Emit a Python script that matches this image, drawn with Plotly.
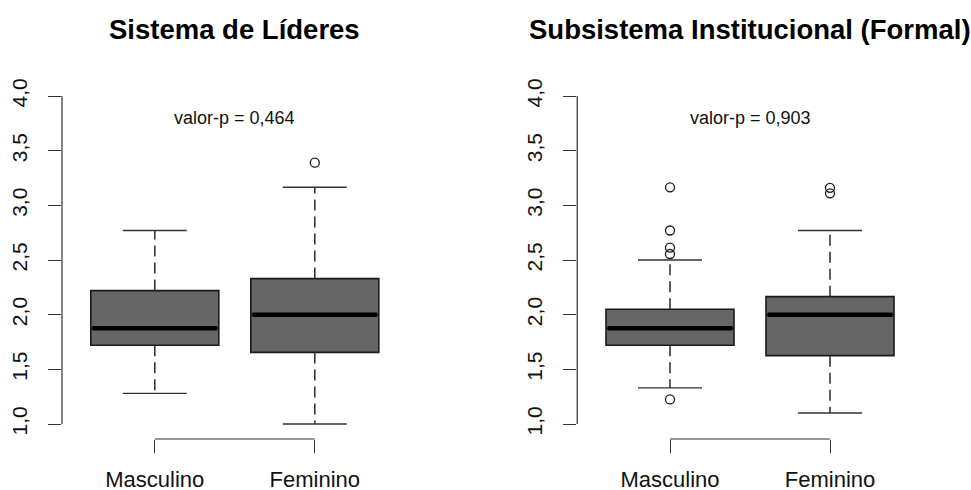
import plotly.graph_objects as go

# ---- data ----
CATEGORIES = ["Masculino", "Feminino"]
POSITIONS = [1, 2]
TITLES = ["Sistema de Líderes", "Subsistema Institucional (Formal)"]
P_VALUES = ["valor-p = 0,464", "valor-p = 0,903"]

# panel 1: Sistema de Líderes
LID_LOWER = [1.28, 1.00]
LID_Q1 = [1.72, 1.655]
LID_MEDIAN = [1.875, 2.00]
LID_Q3 = [2.22, 2.33]
LID_UPPER = [2.77, 3.165]
LID_OUTLIERS = [[], [3.39]]

# panel 2: Subsistema Institucional (Formal)
INS_LOWER = [1.33, 1.10]
INS_Q1 = [1.72, 1.625]
INS_MEDIAN = [1.875, 2.00]
INS_Q3 = [2.05, 2.165]
INS_UPPER = [2.50, 2.77]
INS_OUTLIERS = [[3.165, 2.77, 2.613, 2.555, 1.225], [3.16, 3.11]]

Y_TICKS = [1.0, 1.5, 2.0, 2.5, 3.0, 3.5, 4.0]
Y_TICK_LABELS = ["1,0", "1,5", "2,0", "2,5", "3,0", "3,5", "4,0"]

# ---- style ----
W, H = 971, 490
FONT = "Liberation Sans, Arial, Helvetica, sans-serif"
BOX_FILL = "#666666"
EDGE = "#1a1a1a"
AXIS = "#333333"
BOX_W = 0.8
STAPLE_W = 0.4

fig = go.Figure()

panels = [
    ("x", "y", LID_LOWER, LID_Q1, LID_MEDIAN, LID_Q3, LID_UPPER, LID_OUTLIERS),
    ("x2", "y2", INS_LOWER, INS_Q1, INS_MEDIAN, INS_Q3, INS_UPPER, INS_OUTLIERS),
]

for xa, ya, lo, q1, med, q3, up, outl in panels:
    for i, pos in enumerate(POSITIONS):
        fig.add_trace(go.Box(
            x=[pos], q1=[q1[i]], median=[med[i]], q3=[q3[i]],
            lowerfence=[q1[i]], upperfence=[q3[i]],
            width=BOX_W, whiskerwidth=0,
            fillcolor=BOX_FILL, line=dict(color=EDGE, width=1.6),
            boxpoints=False, hoverinfo="skip", showlegend=False,
            xaxis=xa, yaxis=ya,
        ))
        # dashed whiskers
        fig.add_trace(go.Scatter(
            x=[pos, pos, None, pos, pos],
            y=[q3[i], up[i], None, q1[i], lo[i]],
            mode="lines", line=dict(color="#2a2a2a", width=1.5, dash="11px,6px"),
            hoverinfo="skip", showlegend=False, xaxis=xa, yaxis=ya,
        ))
        # staples
        fig.add_trace(go.Scatter(
            x=[pos - STAPLE_W / 2, pos + STAPLE_W / 2, None,
               pos - STAPLE_W / 2, pos + STAPLE_W / 2],
            y=[up[i], up[i], None, lo[i], lo[i]],
            mode="lines", line=dict(color=AXIS, width=1.4),
            hoverinfo="skip", showlegend=False, xaxis=xa, yaxis=ya,
        ))
        # thick median
        fig.add_trace(go.Scatter(
            x=[pos - BOX_W / 2 + 0.01, pos + BOX_W / 2 - 0.01],
            y=[med[i], med[i]],
            mode="lines", line=dict(color="#000000", width=4.5),
            hoverinfo="skip", showlegend=False, xaxis=xa, yaxis=ya,
        ))
        # outliers
        if outl[i]:
            fig.add_trace(go.Scatter(
                x=[pos] * len(outl[i]), y=outl[i], mode="markers",
                marker=dict(symbol="circle-open", size=9,
                            line=dict(color=EDGE, width=1.3), color=EDGE),
                hoverinfo="skip", showlegend=False, xaxis=xa, yaxis=ya,
            ))

# ---- layout ----
px_x = lambda p: p / W
px_y = lambda p: 1 - p / H

y_dom = [px_y(439), px_y(83)]
y_rng = [0.8628, 4.119]
x_rng = [0.42, 2.58]

xcommon = dict(range=x_rng, tickvals=POSITIONS, ticktext=CATEGORIES,
               ticks="outside", ticklen=13, tickwidth=1.2, tickcolor=AXIS,
               showline=False, showgrid=False, zeroline=False,
               tickfont=dict(family=FONT, size=22, color="#111111"),
               automargin=False, fixedrange=True, ticklabelstandoff=8)
ycommon = dict(range=y_rng, domain=y_dom, tickvals=Y_TICKS, ticktext=Y_TICK_LABELS,
               ticks="outside", ticklen=13, tickwidth=1.2, tickcolor=AXIS,
               showline=False, showgrid=False, zeroline=False,
               tickangle=-90,
               tickfont=dict(family=FONT, size=21, color="#111111"),
               automargin=False, fixedrange=True, ticklabelstandoff=13)

fig.update_layout(
    width=W, height=H,
    margin=dict(l=0, r=0, t=0, b=0),
    paper_bgcolor="white", plot_bgcolor="white",
    showlegend=False,
    xaxis=dict(domain=[px_x(62), px_x(407.6)], anchor="y", **xcommon),
    yaxis=dict(anchor="x", **ycommon),
    xaxis2=dict(domain=[px_x(577.2), px_x(922.8)], anchor="y2", **xcommon),
    yaxis2=dict(anchor="x2", **ycommon),
)

shapes = []
annotations = []
for k, (xa, ya) in enumerate([("x", "y"), ("x2", "y2")]):
    # y axis line from first to last tick
    shapes.append(dict(type="line", xref=f"{xa} domain", yref=ya,
                       x0=0, x1=0, y0=Y_TICKS[0], y1=Y_TICKS[-1],
                       line=dict(color=AXIS, width=1.2)))
    # x axis line from first to last category
    shapes.append(dict(type="line", xref=xa, yref=f"{ya} domain",
                       x0=POSITIONS[0], x1=POSITIONS[-1], y0=0, y1=0,
                       line=dict(color=AXIS, width=1.2)))
    annotations.append(dict(text=f"<b>{TITLES[k]}</b>", xref=f"{xa} domain", yref="paper",
                            x=0.5, y=px_y(30), xanchor="center", yanchor="middle",
                            showarrow=False,
                            font=dict(family=FONT, size=27.5, color="#000000")))
    annotations.append(dict(text=P_VALUES[k], xref=xa, yref=ya,
                            x=(POSITIONS[0] + POSITIONS[-1]) / 2, y=3.8,
                            xanchor="center", yanchor="middle", showarrow=False,
                            font=dict(family=FONT, size=18, color="#111111")))

fig.update_layout(shapes=shapes, annotations=annotations)

fig.write_html("out.html",
               config={"displayModeBar": False},
               post_script="document.body.style.margin='0';document.body.style.overflow='hidden';")
